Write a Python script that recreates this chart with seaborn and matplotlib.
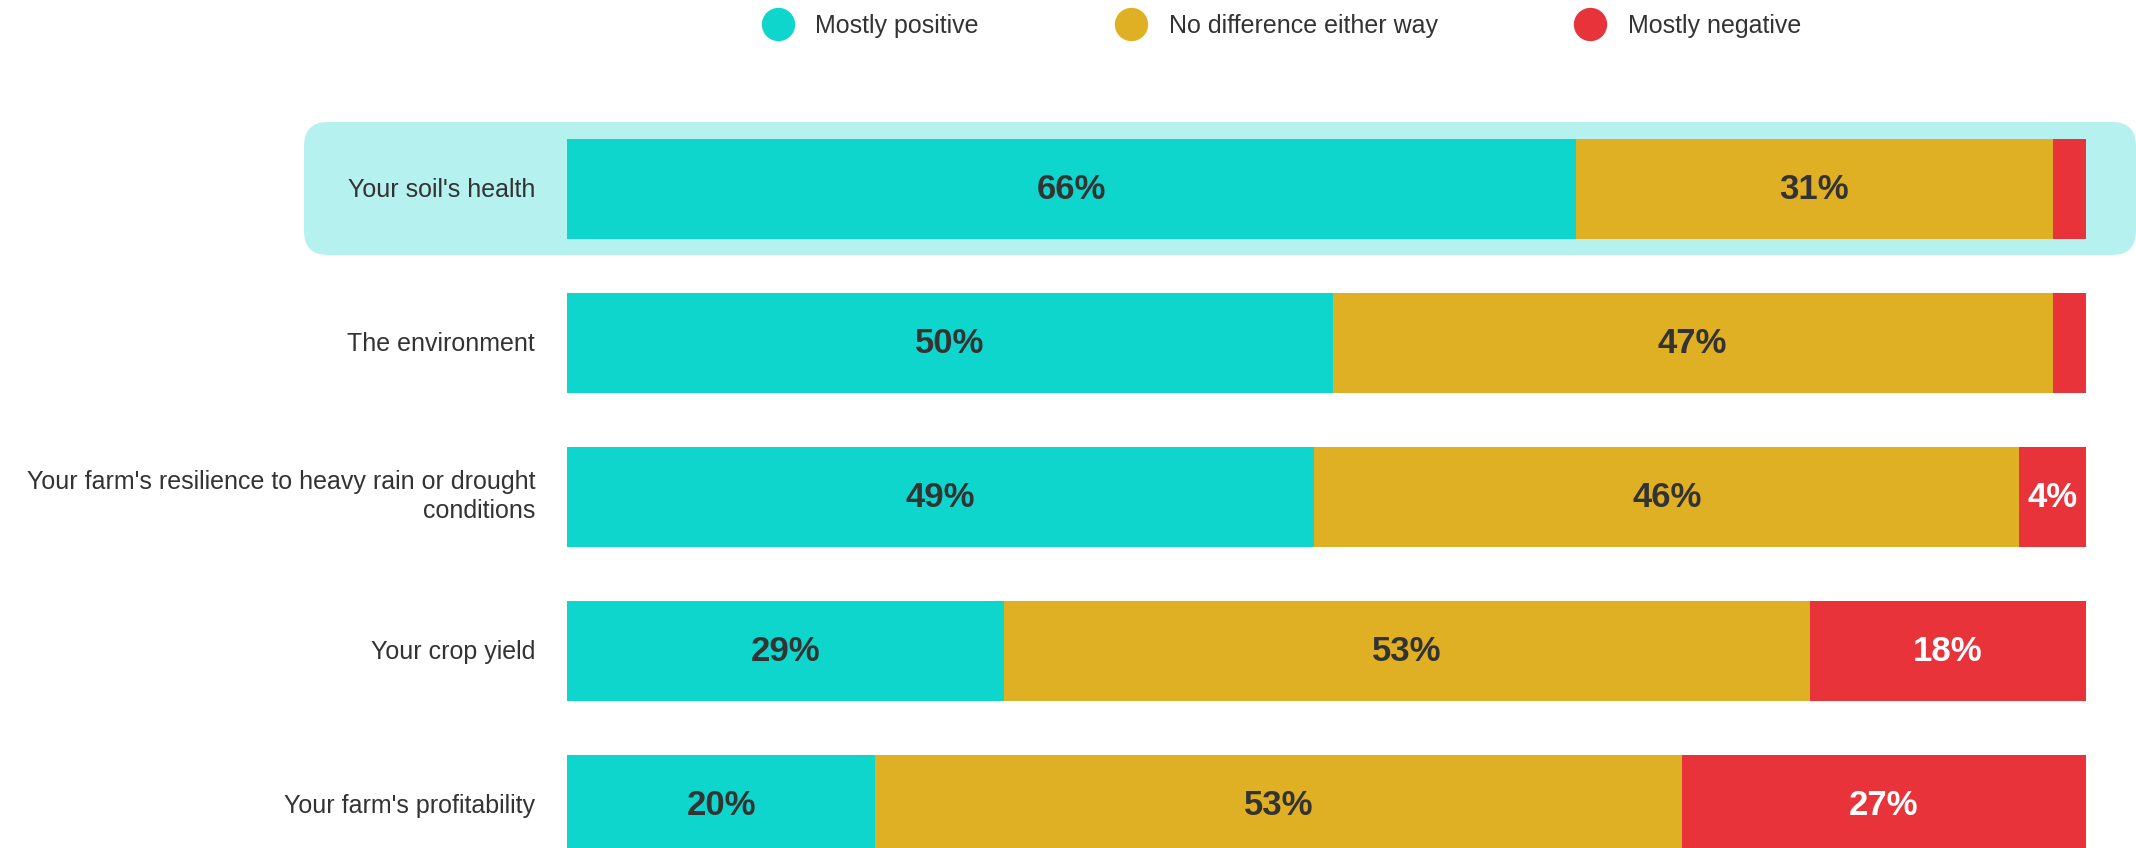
import seaborn as sns
import pandas as pd
import numpy as np
import matplotlib.pyplot as plt
from matplotlib.patches import FancyBboxPatch
from matplotlib.lines import Line2D
from matplotlib.transforms import IdentityTransform, ScaledTranslation

# values (share of respondents, %)
categories = ["Your soil's health",
              "The environment",
              "Your farm's resilience to heavy rain or drought\nconditions",
              "Your crop yield",
              "Your farm's profitability"]
positive = [66.4, 50.4, 49.2, 28.8, 20.3]
no_diff = [31.4, 47.4, 46.4, 53.0, 53.1]
negative = [2.2, 2.2, 4.4, 18.2, 26.6]

series_names = ["Mostly positive", "No difference either way", "Mostly negative"]
colors = ["#0FD6CC", "#E0B024", "#E8333A"]
text_colors = ["#333333", "#333333", "#FFFFFF"]

df = pd.DataFrame({"category": categories,
                   "Mostly positive": positive,
                   "No difference either way": no_diff,
                   "Mostly negative": negative})
cum = df[series_names].cumsum(axis=1)

sns.set_style("white")
plt.rcParams['font.family'] = ['Liberation Sans', 'DejaVu Sans']

W, H = 2136, 848
fig = plt.figure(figsize=(W / 100, H / 100), dpi=100)

# highlight band behind the first row (pixel coords)
hl = FancyBboxPatch((304, H - 255), 2136 - 304, 133,
                    boxstyle="round,pad=0,rounding_size=24",
                    transform=IdentityTransform(), facecolor="#B5F1EE",
                    edgecolor="none", zorder=0)
fig.patches.append(hl)

ax = fig.add_axes([567 / W, 0, 1519 / W, 1])
ax.set_zorder(1)
ax.patch.set_alpha(0)

# stacked bars: draw cumulative totals from the back to the front
for name, color in zip(series_names[::-1], colors[::-1]):
    sns.barplot(x=cum[name], y=df["category"], color=color, width=0.655,
                orient="h", ax=ax, saturation=1, linewidth=0)

# percentage labels
starts = cum.shift(1, axis=1).fillna(0)
for i in range(len(categories)):
    for name, tc in zip(series_names, text_colors):
        v = df.loc[i, name]
        if v < 3:
            continue
        x = starts.loc[i, name] + v / 2
        ax.text(x, i, f"{round(v)}%", ha="center", va="center",
                fontsize=25, fontweight="bold", color=tc)

ax.set_xlim(0, 100)
ax.set_ylim((H - 189) / 154, -189 / 154)
ax.set_xlabel("")
ax.set_ylabel("")
ax.set_xticks([])
ax.tick_params(axis="y", length=0, pad=23, labelsize=18, labelcolor="#333333")
for lbl in ax.get_yticklabels():
    lbl.set_linespacing(1.25)
    # nudge labels up a little, the two-line one a bit more
    dy = 4 if "\n" in lbl.get_text() else 1
    lbl.set_transform(lbl.get_transform() + ScaledTranslation(0, dy / 72, fig.dpi_scale_trans))
sns.despine(ax=ax, left=True, bottom=True)

handles = [Line2D([], [], marker="o", linestyle="none", markersize=24,
                  markerfacecolor=c, markeredgecolor="none") for c in colors]
fig.legend(handles, series_names, loc="center", ncol=3,
           bbox_to_anchor=(1277 / W, 1 - 26 / H), frameon=False,
           fontsize=18, handletextpad=0.5, columnspacing=5.1,
           labelcolor="#333333")

fig.savefig("out.png", dpi=100)
